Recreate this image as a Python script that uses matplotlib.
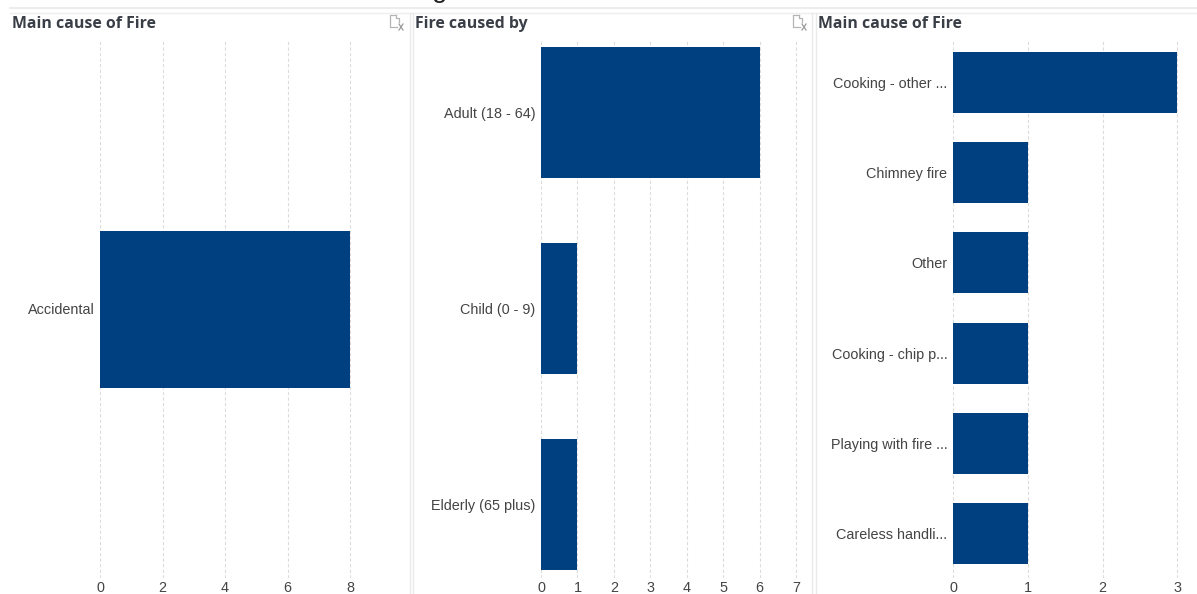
import matplotlib
matplotlib.use('Agg')
import matplotlib.pyplot as plt
from matplotlib.lines import Line2D

W, H = 1197, 594
NAVY = '#004080'
TXT = '#444444'

plt.rcParams['font.family'] = ['Liberation Sans', 'DejaVu Sans']

cats1 = ['Accidental']
vals1 = [8]
ticks1 = [0, 2, 4, 6, 8]

cats2 = ['Adult (18 - 64)', 'Child (0 - 9)', 'Elderly (65 plus)']
vals2 = [6, 1, 1]
ticks2 = [0, 1, 2, 3, 4, 5, 6, 7]

cats3 = ['Cooking - other ...', 'Chimney fire', 'Other', 'Cooking - chip p...',
         'Playing with fire ...', 'Careless handli...']
vals3 = [3, 1, 1, 1, 1, 1]
ticks3 = [0, 1, 2, 3]

titles = ['Main cause of Fire', 'Fire caused by', 'Main cause of Fire']


def px_axes(fig, left, right, top, bottom):
    return fig.add_axes([left/W, 1-bottom/H, (right-left)/W, (bottom-top)/H])


def bar_panel(fig, cats, vals, ticks, left, right, x_per_unit, first_y, step, bar_px):
    top, bottom = 41, 578
    ax = px_axes(fig, left, right, top, bottom)
    ax.set_xlim(0, (right-left)/x_per_unit)
    # y axis in category units, first category sits first_y pixels down the page
    ax.set_ylim((bottom-first_y)/step, (top-first_y)/step)
    ax.barh(range(len(cats)), vals, height=bar_px/step, color=NAVY, zorder=3)
    ax.set_yticks(range(len(cats)), cats)
    ax.set_xticks(ticks, [str(t) for t in ticks])
    ax.grid(axis='x', color='#dcdcdc', linestyle=(0, (3, 2)), linewidth=0.8, zorder=0)
    ax.tick_params(length=0, labelsize=10.4, labelcolor=TXT)
    ax.tick_params(axis='y', pad=4)
    ax.tick_params(axis='x', pad=2.5)
    for lab in ax.get_yticklabels():
        lab.set_va('center_baseline')
    for s in ax.spines.values():
        s.set_visible(False)
    ax.patch.set_alpha(0)
    return ax


fig = plt.figure(figsize=(W/100, H/100), dpi=100)

# page overlay in pixel coords, for panel frames, titles, icons
bg = fig.add_axes([0, 0, 1, 1], zorder=0)
bg.set_xlim(0, W)
bg.set_ylim(H, 0)
bg.axis('off')

bg.add_line(Line2D([10, W], [7.5, 7.5], color='#ececec', lw=1.5))
bg.add_line(Line2D([10, W], [12.5, 12.5], color='#eeeeee', lw=1))
for x in [409.5, 412.5, 812, 815.5]:
    bg.add_line(Line2D([x, x], [13, H], color='#eaeaea', lw=1))

for x, t in zip([12, 415, 818], titles):
    bg.text(x, 23.5, t, fontsize=11.4, fontweight='bold', color='#3a3f47',
            family=['Open Sans', 'DejaVu Sans'], va='center', ha='left')

for x in [390, 793]:
    bg.add_line(Line2D([x+6, x, x, x+7], [15, 15, 27, 27], color='#b4b4b4', lw=0.9))
    bg.add_line(Line2D([x+6, x+6, x+9, x+9], [15, 18, 18, 22], color='#b4b4b4', lw=0.9))
    bg.add_line(Line2D([x+9, x+13], [24, 30], color='#9a9a9a', lw=0.9))
    bg.add_line(Line2D([x+13, x+9], [24, 30], color='#9a9a9a', lw=0.9))

# bottom of the big heading cut off at the top of the shot
bg.text(440, -10, 'g', fontsize=20, color='#222222', ha='center', va='center', clip_on=True)

bar_panel(fig, cats1, vals1, ticks1, 100, 400, 31.25, 309, 157/0.6, 157)
bar_panel(fig, cats2, vals2, ticks2, 541, 804, 36.45, 112.5, 196, 131)
bar_panel(fig, cats3, vals3, ticks3, 953, 1190, 74.8, 82.5, 90.2, 61)

fig.savefig('out.png', dpi=100)
